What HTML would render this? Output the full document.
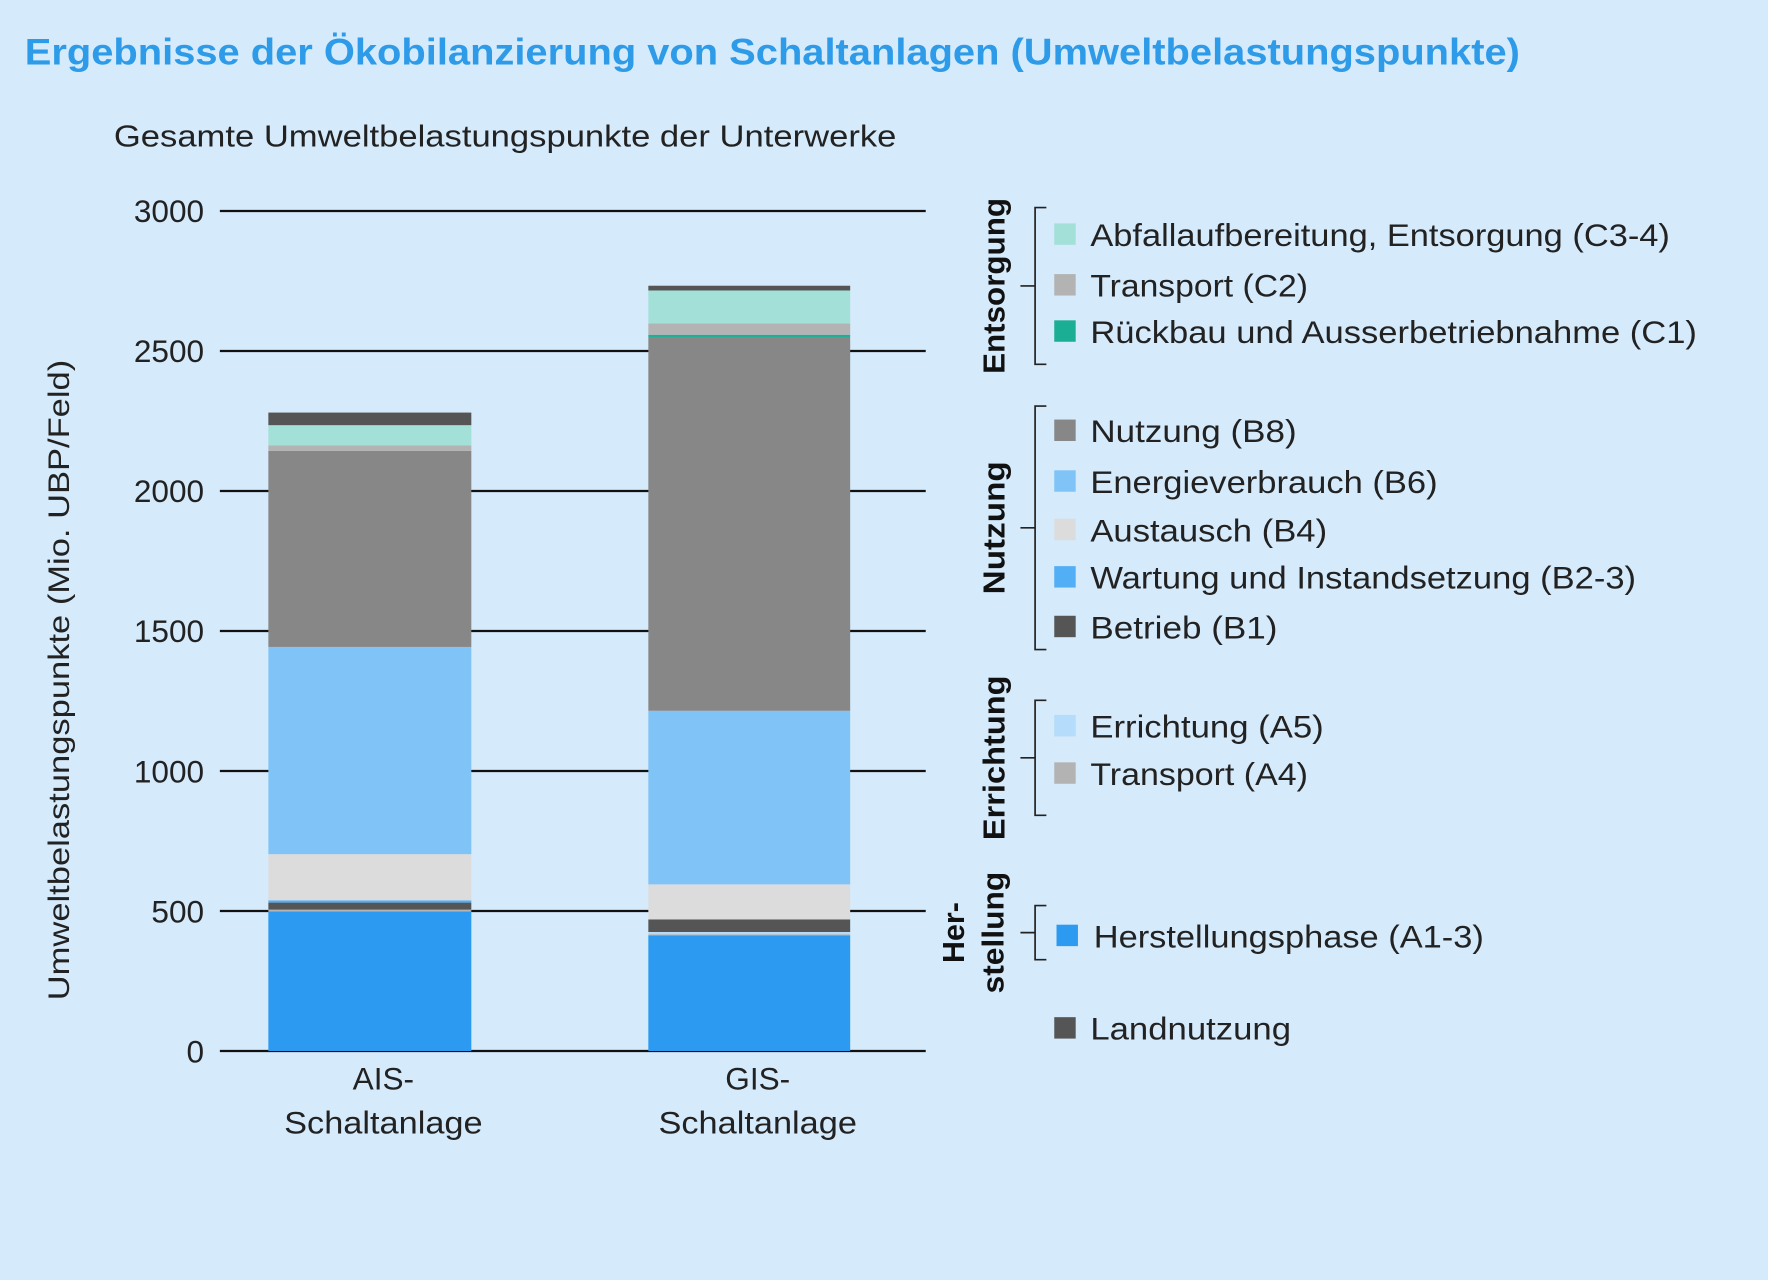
<!DOCTYPE html>
<html><head><meta charset="utf-8">
<style>
html,body{margin:0;padding:0;background:#d5eafb;}
svg{display:block;font-family:"Liberation Sans Narrow","Liberation Sans",sans-serif;}
</style></head>
<body>
<svg id="chart" width="1768" height="1280" viewBox="0 0 1568 1135" xmlns="http://www.w3.org/2000/svg">
<rect width="1568" height="1135" fill="#d5eafb"/>
<text x="22" y="57" font-size="33" font-weight="bold" fill="#2e9be9" textLength="1326" lengthAdjust="spacingAndGlyphs">Ergebnisse der Ökobilanzierung von Schaltanlagen (Umweltbelastungspunkte)</text>
<text x="101" y="130" font-size="27" fill="#222" textLength="694" lengthAdjust="spacingAndGlyphs">Gesamte Umweltbelastungspunkte der Unterwerke</text>
<text transform="translate(61,603) rotate(-90)" text-anchor="middle" font-size="26" fill="#222" font-family="Liberation Sans, sans-serif" textLength="568" lengthAdjust="spacingAndGlyphs">Umweltbelastungspunkte (Mio. UBP/Feld)</text>
<g id="grid"></g>
<g id="bars"></g>
<g id="xlabels"></g>
<g id="legend"></g>
</svg>
<script>
const categories = ["AIS-|Schaltanlage", "GIS-|Schaltanlage"];
const seriesNames = ["Herstellungsphase (A1-3)","Transport (A4)","Errichtung (A5)","Betrieb (B1)","Wartung und Instandsetzung (B2-3)","Austausch (B4)","Energieverbrauch (B6)","Nutzung (B8)","Rückbau und Ausserbetriebnahme (C1)","Transport (C2)","Abfallaufbereitung, Entsorgung (C3-4)","Landnutzung"];
const aisValues = [497, 8, 0, 25, 8, 165, 740, 700, 0, 20, 72, 45];
const gisValues = [413, 4, 8, 45, 0, 125, 620, 1335, 8, 40, 118, 17];
const yTicks = [0, 500, 1000, 1500, 2000, 2500, 3000];
const colors = ["#2b9af0","#b3b3b3","#b5dcfa","#555555","#52aef5","#dcdcdc","#80c4f7","#878787","#1aae94","#b3b3b3","#a3e0d8","#555555"];
const legendWidths = [346,193,207,166,484,210,308,183,538,193,514,178];
const NS = "http://www.w3.org/2000/svg";
const y = v => 932 - v * (932 - 187) / 3000;
const barX = [238, 575], barW = [180, 179];
function mk(tag, attrs, parent){const e=document.createElementNS(NS,tag);for(const k in attrs)e.setAttribute(k,attrs[k]);parent.appendChild(e);return e;}
const grid=document.getElementById('grid');
yTicks.forEach(t=>{
  const l=mk('line',{x1:195,x2:821,y1:y(t),y2:y(t),stroke:'#111','stroke-width':2},grid);
  
  
  const tx=mk('text',{x:181,y:y(t)+10,'text-anchor':'end','font-size':28,fill:'#222'},grid);
  tx.textContent=t;
  
  
});
const bars=document.getElementById('bars');
[aisValues,gisValues].forEach((vals,ci)=>{
  let acc=0;
  vals.forEach((v,si)=>{
    if(v<=0)return;
    const r=mk('rect',{x:barX[ci],width:barW[ci],y:y(acc+v),height:y(acc)-y(acc+v),fill:colors[si]},bars);
    
    
    acc+=v;
  });
});
const xl=document.getElementById('xlabels');
categories.forEach((c,i)=>{
  const parts=c.split('|');
  parts.forEach((p,j)=>{
    const attrs={x:[340,672][i],y:966+j*39,'text-anchor':'middle','font-size':28,fill:'#222'};
    if(j===1){attrs.textLength=176;attrs.lengthAdjust='spacingAndGlyphs';}
    const t=mk('text',attrs,xl);
    t.textContent=p;
    
    
  });
});
const lg=document.getElementById('legend');
const rows=[[10,208],[9,253],[8,294],[7,382],[6,427],[5,470],[4,512],[3,556],[2,644],[1,686],[0,830],[11,912]];
rows.forEach(([si,cy])=>{
  const sx= si===0?937:935;
  const r=mk('rect',{x:sx,y:cy-10,width:19,height:19,fill:colors[si]},lg);
  
  
  const t=mk('text',{x:si===0?970:967,y:cy+10,'font-size':28,fill:'#222',textLength:legendWidths[si],lengthAdjust:'spacingAndGlyphs'},lg);
  t.textContent=seriesNames[si];
  
  
});
const groups=[["Entsorgung",184,323,156],["Nutzung",360,576,118],["Errichtung",621,723,146],["Herstellung",803,851,0]];
groups.forEach(([n,a,b,w])=>{
  const m=(a+b)/2;
  const p=mk('path',{d:`M928 ${a} H918 V${b} H928 M905 ${m} H918`,fill:'none',stroke:'#222','stroke-width':1.5},lg);
  
  
  if(n==="Herstellung"){
    [["Her-",855,0],["stellung",890,108]].forEach(([s,x,tw])=>{
      const at={transform:`translate(${x},${m}) rotate(-90)`,'text-anchor':'middle','font-size':27,'font-weight':'bold',fill:'#111','font-family':'Liberation Sans, sans-serif'};
      if(tw){at.textLength=tw;at.lengthAdjust='spacingAndGlyphs';}
      const t=mk('text',at,lg);
      t.textContent=s;
      
      
    });
  } else {
    const t=mk('text',{transform:`translate(891,${m}) rotate(-90)`,'text-anchor':'middle','font-size':27,'font-weight':'bold',fill:'#111','font-family':'Liberation Sans, sans-serif',textLength:w,lengthAdjust:'spacingAndGlyphs'},lg);
    t.textContent=n;
    
    
  }
});
</script>
</body></html>
